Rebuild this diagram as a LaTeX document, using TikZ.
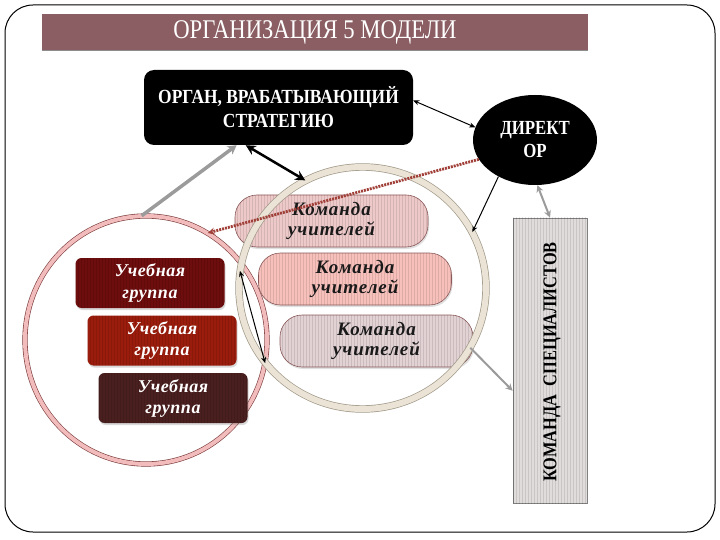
\documentclass[tikz,border=0pt]{standalone}
\usepackage{fontspec}
\setmainfont{Liberation Serif}
\newfontfamily\condfont[FakeStretch=0.84]{Liberation Serif}
\newfontfamily\orgfont[FakeStretch=0.87]{Liberation Serif}
\newfontfamily\teamfont[LetterSpace=5]{Liberation Serif}
\newfontfamily\groupfont[LetterSpace=3]{Liberation Serif}
\usetikzlibrary{shapes.geometric,arrows.meta,shadows,patterns}

\definecolor{titlebar}{RGB}{138,94,98}
\definecolor{teamA}{RGB}{238,201,201}
\definecolor{teamB}{RGB}{247,192,187}
\definecolor{teamC}{RGB}{226,210,212}
\definecolor{teamedge}{RGB}{140,90,90}
\definecolor{groupA}{RGB}{110,13,13}
\definecolor{groupB}{RGB}{154,28,12}
\definecolor{groupC}{RGB}{74,31,31}
\definecolor{specfill}{RGB}{224,220,220}
\definecolor{pinkband}{RGB}{242,188,188}
\definecolor{pinkedge}{RGB}{122,58,58}
\definecolor{beigeband}{RGB}{235,228,214}
\definecolor{beigeedge}{RGB}{160,152,136}
\definecolor{ropered}{RGB}{160,64,56}
\definecolor{arrowgray}{RGB}{155,155,155}

\tikzset{
  stripes/.style={postaction={pattern=vertical lines, pattern color=black, opacity=0.10}},
  teambox/.style={draw=teamedge, line width=0.6pt, rounded corners=22pt,
    minimum width=193pt, minimum height=52pt, inner sep=0pt, align=center,
    font=\teamfont\bfseries\itshape\fontsize{19}{20}\selectfont, text=black!90,
    drop shadow={opacity=0.25, shadow xshift=1pt, shadow yshift=-2pt}, stripes},
  groupbox/.style={rounded corners=6pt, minimum width=149pt, minimum height=50pt,
    inner sep=0pt, align=center, text=white,
    font=\groupfont\bfseries\itshape\fontsize{18}{21}\selectfont,
    drop shadow={opacity=0.3, shadow xshift=1pt, shadow yshift=-2pt}, stripes},
  ring/.style={ellipse, inner sep=0pt},
  thinarrow/.style={line width=1pt, black},
  grayarrow/.style={line width=3.5pt, arrowgray, -{Stealth[length=9pt,width=10pt]}},
}

\begin{document}
\begin{tikzpicture}[x=1pt,y=-1pt]
\useasboundingbox (0,0) rectangle (720,540);

% outer frame
\draw[line width=1pt, rounded corners=28pt] (5,5) rectangle (715,532);

% title bar
\node[fill=titlebar, minimum width=546pt, minimum height=36pt, inner sep=0pt,
      text=white, font=\condfont\fontsize{27}{30}\selectfont] (title) at (315,32) {ОРГАНИЗАЦИЯ 5 МОДЕЛИ};
\draw[black!45, line width=1pt] (title.south west) -- (title.south east);

% strategy body
\node[fill=black, rounded corners=10pt, minimum width=269pt, minimum height=75pt,
      inner sep=0pt, align=center, text=white,
      font=\orgfont\bfseries\fontsize{20}{24}\selectfont] (organ) at (278.5,107.5)
      {ОРГАН, ВРАБАТЫВАЮЩИЙ\\СТРАТЕГИЮ};

% director
\node[ellipse, fill=black, minimum width=124pt, minimum height=90pt, inner sep=0pt,
      align=center, text=white, font=\condfont\bfseries\fontsize{20}{23}\selectfont]
      (director) at (535,140) {ДИРЕКТ\\ОР};

% specialists
\node[draw=black!50, fill=specfill, line width=0.8pt, minimum width=74pt, minimum height=285pt,
      inner sep=0pt, stripes] (spec) at (550,360.5) {};
\node[rotate=90, font=\condfont\bfseries\fontsize{19.5}{22}\selectfont] (spectext) at (552,362)
      {КОМАНДА\ \ СПЕЦИАЛИСТОВ};

% pink ring and study groups
\node[ring, minimum width=242pt, minimum height=248pt, draw=pinkedge, line width=0.6pt,
      double=pinkband, double distance=4pt] (pink) at (146,340) {};
\node[groupbox, fill=groupA] (g1) at (150,283) {Учебная\\группа};
\node[groupbox, fill=groupB] (g2) at (162,340.5) {Учебная\\группа};
\node[groupbox, fill=groupC] (g3) at (173,398) {Учебная\\группа};

% teacher teams
\node[teambox, fill=teamA] (t1) at (331.5,221) {Команда\\учителей};
\node[teambox, fill=teamB] (t2) at (355,279) {Команда\\учителей};
\node[teambox, fill=teamC] (t3) at (376.5,341) {Команда\\учителей};

% beige ring
\node[ring, minimum width=247pt, minimum height=242pt, draw=beigeedge, line width=0.7pt,
      double=beigeband, double distance=6pt] (beige) at (362.5,288) {};

% connectors
\draw[grayarrow] (pink.92) -- (organ.222);
\draw[line width=2.5pt, black, {Stealth[length=10pt,width=10pt]}-{Stealth[length=10pt,width=10pt]}]
      (organ.229) -- (beige.118);
\draw[thinarrow, {Stealth[length=6pt,width=5pt]}-{Stealth[length=6pt,width=5pt]}]
      (organ.3) -- (director.168);
\draw[thinarrow, -{Stealth[length=6pt,width=5pt]}] (director.225) -- (beige.27);
\draw[line width=2pt, arrowgray, {Stealth[length=7pt,width=7pt]}-{Stealth[length=7pt,width=7pt]}]
      (director.-87) -- (spec.north);
\draw[line width=2pt, arrowgray, -{Stealth[length=7pt,width=7pt]}] (beige.-29) -- (spec.219);
\draw[thinarrow, {Stealth[length=6pt,width=5pt]}-{Stealth[length=6pt,width=5pt]}]
      (beige.172) -- (pink.-11);
\draw[line width=2.8pt, ropered, dash pattern=on 2pt off 1pt, -{Stealth[length=7pt,width=7pt]}]
      (director.199) -- (pink.60);
\end{tikzpicture}
\end{document}
